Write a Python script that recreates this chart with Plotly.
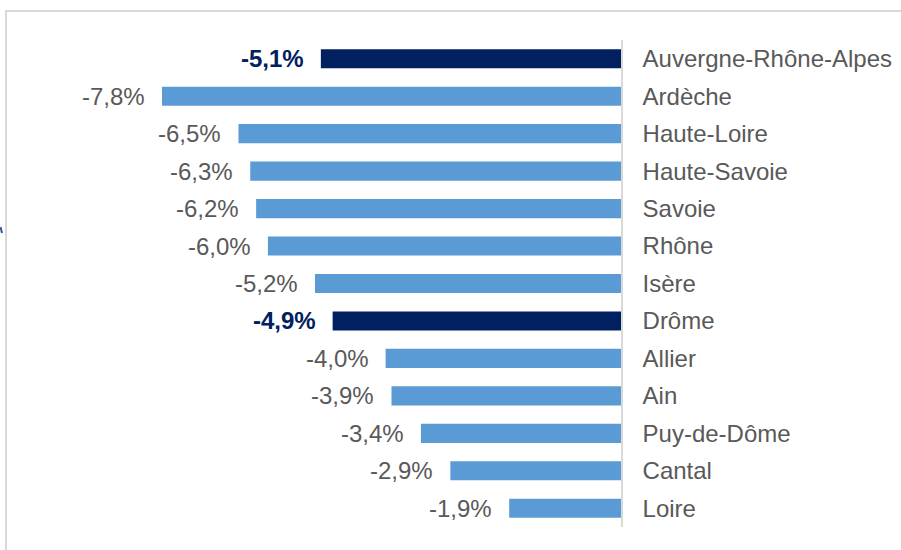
import plotly.graph_objects as go

categories = ["Auvergne-Rhône-Alpes", "Ardèche", "Haute-Loire", "Haute-Savoie", "Savoie",
              "Rhône", "Isère", "Drôme", "Allier", "Ain", "Puy-de-Dôme", "Cantal", "Loire"]
values = [-5.1, -7.8, -6.5, -6.3, -6.2, -6.0, -5.2, -4.9, -4.0, -3.9, -3.4, -2.9, -1.9]
highlighted = ["Auvergne-Rhône-Alpes", "Drôme"]

LIGHT = "#5B9BD5"
DARK = "#002060"
GREY_TEXT = "#595959"
FONT = "Liberation Sans, Arial, sans-serif"

colors = [DARK if c in highlighted else LIGHT for c in categories]

fig = go.Figure()
fig.add_trace(go.Bar(
    x=values, y=categories, orientation="h",
    marker=dict(color=colors, line=dict(width=0)),
    hoverinfo="skip",
))

for c, v in zip(categories, values):
    label = f"{v:.1f}%".replace(".", ",")
    hl = c in highlighted
    fig.add_annotation(
        x=v, y=c, xref="x", yref="y",
        text=f"<b>{label}</b>" if hl else label,
        showarrow=False, xanchor="right", yanchor="middle", xshift=-15,
        font=dict(family=FONT, size=24, color=DARK if hl else GREY_TEXT),
    )

W, H = 901, 550
ml, mr, mt, mb = 10, 280, 40, 23
pw, ph = W - ml - mr, H - mt - mb

def px2paper(px, py):
    return (px - ml) / pw, (H - mb - py) / ph

fx0, fy1 = px2paper(6, 11)
fx1, fy0 = px2paper(910, 560)
mx0, my0 = px2paper(0.5, 227)
mx1, my1 = px2paper(2, 233)

fig.update_layout(
    width=W, height=H,
    margin=dict(l=ml, r=mr, t=mt, b=mb, autoexpand=False),
    paper_bgcolor="white", plot_bgcolor="white",
    showlegend=False,
    bargap=0.49,
    font=dict(family=FONT, size=24, color=GREY_TEXT),
    xaxis=dict(range=[-611 / 58.85, 0], showgrid=False, zeroline=False,
               showticklabels=False, showline=False, fixedrange=True, automargin=False),
    yaxis=dict(side="right", autorange="reversed", showgrid=False, zeroline=False,
               showline=True, linecolor="#D9D9D9", linewidth=1.5, automargin=False,
               ticks="", ticklabelstandoff=15,
               tickfont=dict(family=FONT, size=24, color=GREY_TEXT)),
    shapes=[
        dict(type="rect", xref="paper", yref="paper", x0=fx0, x1=fx1, y0=fy0, y1=fy1,
             line=dict(color="#D9D9D9", width=2), fillcolor="rgba(0,0,0,0)", layer="below"),
        dict(type="line", xref="paper", yref="paper", x0=mx0, x1=mx1, y0=my0, y1=my1,
             line=dict(color="#2F5597", width=2)),
    ],
)

fig.write_html("out.html", config={"displayModeBar": False},
               post_script="document.body.style.margin='0';document.body.style.overflow='hidden';")
